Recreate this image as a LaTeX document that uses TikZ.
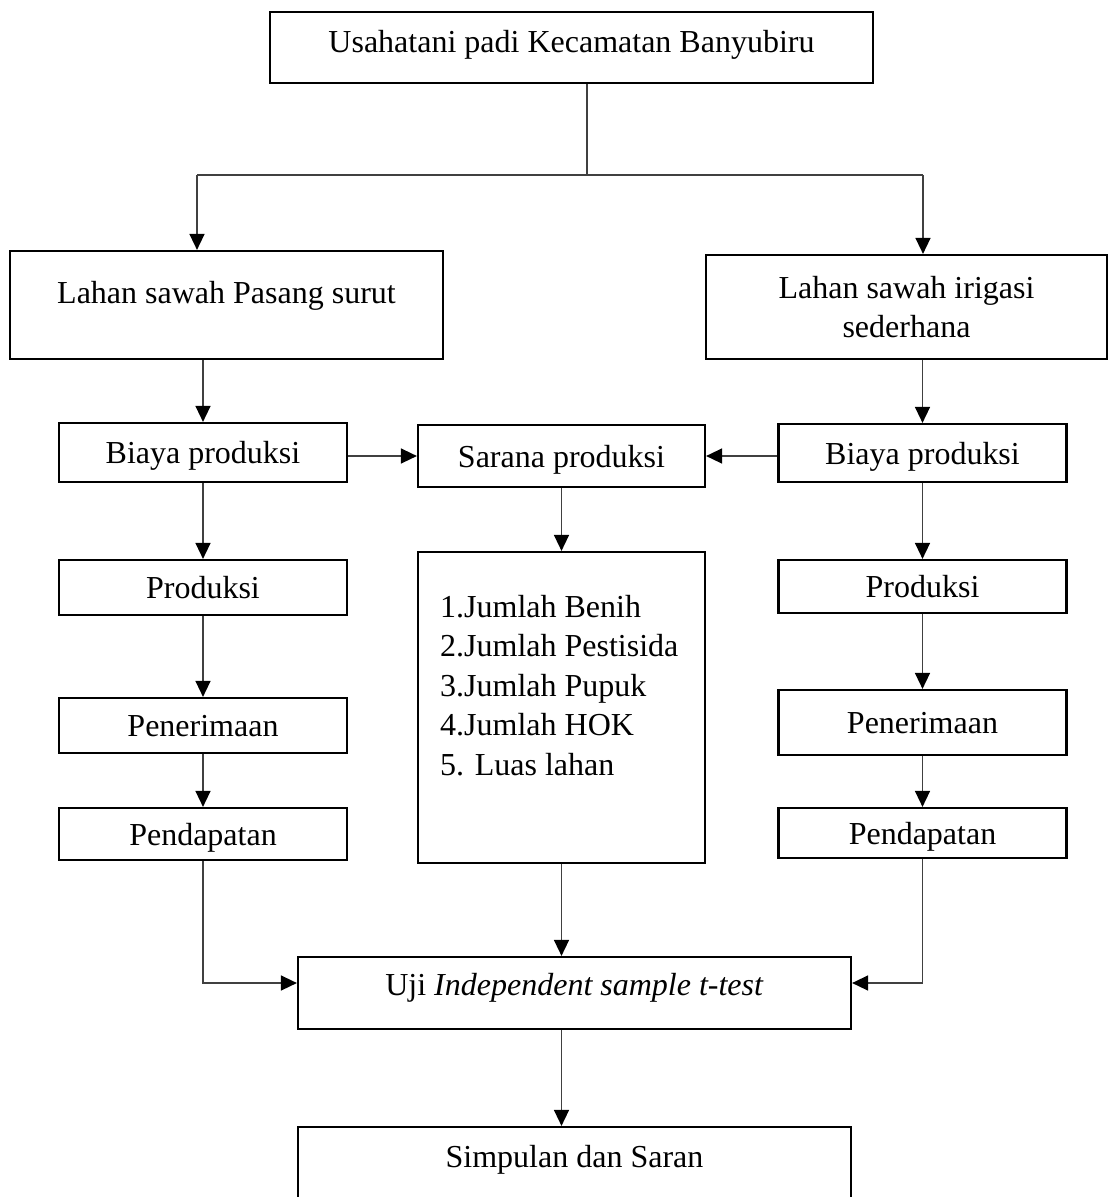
\documentclass[tikz,border=0pt]{standalone}
\usepackage{fontspec}
\setmainfont{Liberation Serif}
\usetikzlibrary{arrows.meta, positioning, calc}

\begin{document}
\begin{tikzpicture}[
    x=1pt, y=-1pt,
    font=\fontsize{32}{39.5}\selectfont,
    box/.style={rectangle, draw=black, line width=2.2pt, inner sep=0pt,
        text height=27pt, text depth=5pt, align=center},
    kol/.style={box, minimum width=288pt},
    a/.style={-{Triangle[length=16pt, width=15pt, black]}, line width=1.5pt, black!75},
    ln/.style={line width=1.5pt, black!75}
]
\useasboundingbox (0,0) rectangle (1109,1197);
\clip (0,0) rectangle (1109,1197);
% ===== LAHAN =====
\node[box, minimum width=603pt, minimum height=71pt, text depth=18pt] (usaha) at (571.5,47.5) {Usahatani padi Kecamatan Banyubiru};
\node[box, minimum width=433pt, minimum height=108pt, text depth=31pt] (lpasut) at (226.5,305) {Lahan sawah Pasang surut};
\node[box, minimum width=401pt, minimum height=104pt, text height={}, text depth={}] (lirig) at (906.5,307) {Lahan sawah irigasi\\sederhana};
\coordinate (cab) at (587,175);
\coordinate (cabL) at (197,175);
\coordinate (cabR) at (923,175);
\draw[ln] (usaha.south -| cab) -- (cab);
\draw[ln] (cabL) -- (cabR);
\draw[a] (cabL) -- (cabL |- lpasut.north);
\draw[a] (cabR) -- (cabR |- lirig.north);
% ===== KOLOM KIRI =====
\node[kol, minimum height=59pt] (biayaL) at (203,452.5) {Biaya produksi};
\node[kol, minimum height=55pt] (prodL)  at (203,587.5) {Produksi};
\node[kol, minimum height=55pt] (terimaL) at (203,725.5) {Penerimaan};
\node[kol, minimum height=52pt] (dapatL) at (203,834) {Pendapatan};
\draw[a] (biayaL.north |- lpasut.south) -- (biayaL.north);
\draw[a] (biayaL) -- (prodL);
\draw[a] (prodL) -- (terimaL);
\draw[a] (terimaL) -- (dapatL);
% ===== KOLOM KANAN =====
\node[kol, minimum height=58pt] (biayaR) at (922.5,453) {Biaya produksi};
\node[kol, minimum height=53pt] (prodR)  at (922.5,586.5) {Produksi};
\node[kol, minimum height=65pt] (terimaR) at (922.5,722.5) {Penerimaan};
\node[kol, minimum height=50pt] (dapatR) at (922.5,833) {Pendapatan};
\draw[a] (biayaR.north |- lirig.south) -- (biayaR.north);
\draw[a] (biayaR) -- (prodR);
\draw[a] (prodR) -- (terimaR);
\draw[a] (terimaR) -- (dapatR);
% ===== SARANA PRODUKSI =====
\node[box, minimum width=287pt, minimum height=62pt] (sarana) at (561.5,456) {Sarana produksi};
\node[box, minimum width=287pt, minimum height=311pt] (input) at (561.5,707.5) {};
\node[anchor=north west, inner sep=0pt, align=left] (daftar) at (440,595)
    {1.Jumlah Benih\\2.Jumlah Pestisida\\3.Jumlah Pupuk\\4.Jumlah HOK\\5. Luas lahan};
\draw[a] (biayaL.east |- sarana.west) -- (sarana.west);
\draw[a] (biayaR.west |- sarana.east) -- (sarana.east);
\draw[a] (sarana) -- (input);
% ===== UJI DAN SIMPULAN =====
\node[box, minimum width=553pt, minimum height=72pt, text depth=22pt] (uji) at (574.5,993) {Uji \textit{Independent sample t-test}};
\node[box, minimum width=553pt, minimum height=83pt, text depth=30pt] (simpul) at (574.5,1168.5) {Simpulan dan Saran};
\draw[a] (input.south) -- (input.south |- uji.north);
\draw[a] (dapatL.south) |- ([yshift=10pt]uji.west);
\draw[a] (dapatR.south) |- ([yshift=10pt]uji.east);
\draw[a] (uji.south -| input.south) -- (input.south |- simpul.north);
\end{tikzpicture}
\end{document}
